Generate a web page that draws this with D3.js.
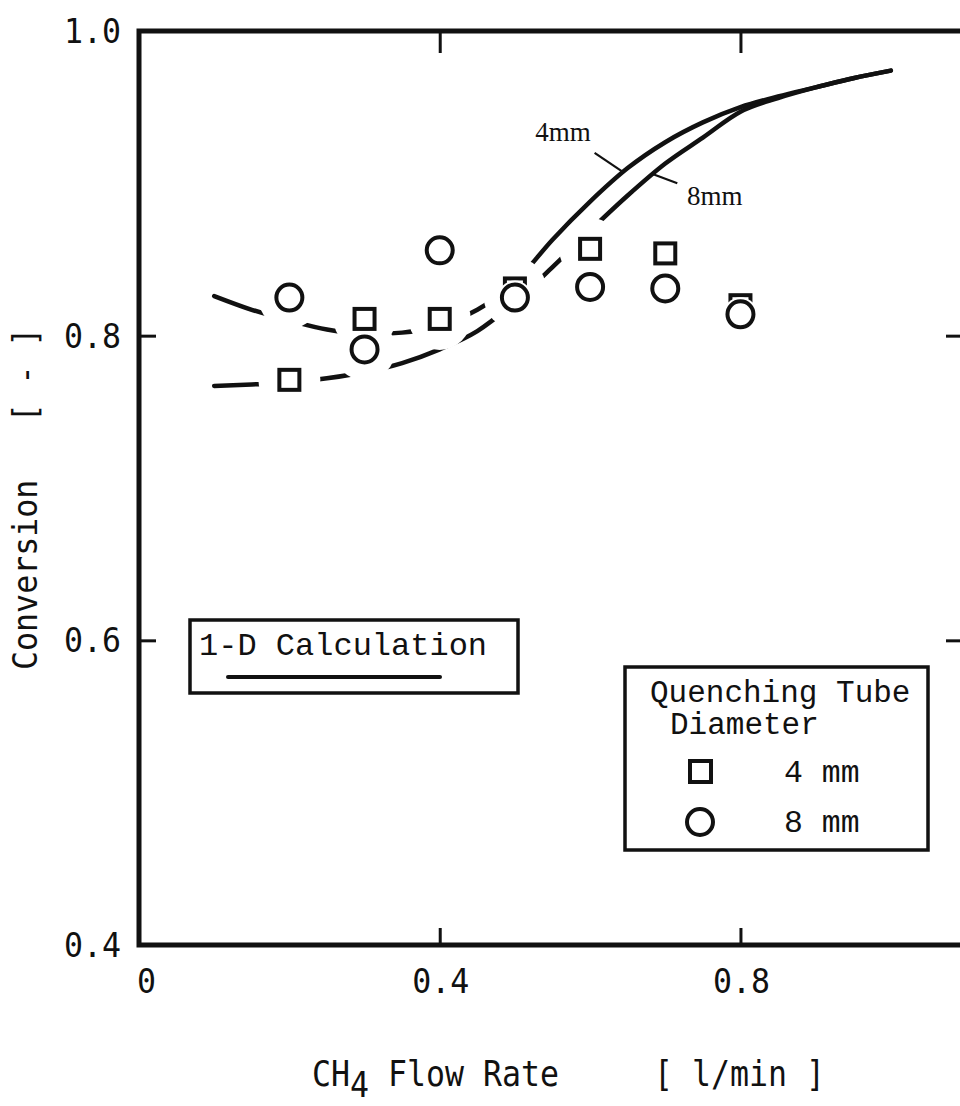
<!DOCTYPE html>
<html><head><meta charset="utf-8">
<script src="https://cdn.jsdelivr.net/npm/d3@7"></script>
<style>html,body{margin:0;padding:0;background:#fff;} svg{display:block;}</style>
</head><body><svg id="chart" width="960" height="1106"></svg>
<script>
// ---- data ----
const flowRate = [0.2, 0.3, 0.4, 0.5, 0.6, 0.7, 0.8];
const conv4mm  = [0.771, 0.811, 0.811, 0.831, 0.857, 0.854, 0.820];
const conv8mm  = [0.825, 0.791, 0.856, 0.825, 0.832, 0.831, 0.814];
const calcFlow = [0.10,0.15,0.20,0.25,0.30,0.35,0.40,0.45,0.50,0.55,0.60,0.65,0.70,0.75,0.80,0.85,0.90,0.95,1.00];
const calc4mm  = [0.826,0.817,0.810,0.804,0.801,0.802,0.807,0.817,0.835,0.863,0.888,0.910,0.927,0.940,0.950,0.957,0.963,0.969,0.974];
const calc8mm  = [0.767,0.768,0.769,0.772,0.776,0.782,0.791,0.803,0.822,0.845,0.869,0.892,0.913,0.930,0.947,0.956,0.963,0.969,0.974];
const xTickValues = [0, 0.4, 0.8];
const yTickValues = [0.4, 0.6, 0.8, 1.0];
const xMinorTicks = [0.4, 0.8];
const yMinorTicks = [0.6, 0.8];
const xLabelMain = "CH", xLabelSub = "4", xLabelRest = " Flow Rate     [ l/min ]";
const yLabel = "Conversion   [ - ]";
const legendCalc = "1-D Calculation";
const legendTitle1 = "Quenching Tube", legendTitle2 = "Diameter";
const seriesNames = ["4 mm", "8 mm"];
const curveNames = ["4mm", "8mm"];

// ---- scales ----
const svg = d3.select("#chart");
const x = d3.scaleLinear().domain([0, 1.1]).range([139, 966]);
const y = d3.scaleLinear().domain([0.4, 1.0]).range([945, 31]);
const ink = "#111";
const mono = "'DejaVu Sans Mono', monospace";
const typew = "'Liberation Mono', 'Courier New', monospace";

svg.append("rect").attr("width",960).attr("height",1106).attr("fill","#fff");

function ctext(sel, str, tx, ty, fs, sx, anchor, rot) {
  return sel.append("text")
    .attr("transform", `translate(${tx},${ty})${rot ? ` rotate(${rot})` : ""} scale(${sx},1)`)
    .attr("text-anchor", anchor)
    .style("font-family", mono).style("font-size", fs + "px").attr("fill", ink)
    .text(str);
}

// ---- mask for gaps in curves around markers ----
const defs = svg.append("defs");
const mask = defs.append("mask").attr("id", "gapMask").attr("maskUnits","userSpaceOnUse")
  .attr("x",0).attr("y",0).attr("width",960).attr("height",1106);
mask.append("rect").attr("width", 960).attr("height", 1106).attr("fill", "#fff");
const allPts = flowRate.map((f,i)=>[f,conv4mm[i]]).concat(flowRate.map((f,i)=>[f,conv8mm[i]]));
mask.selectAll("circle").data(allPts).join("circle")
  .attr("cx", d => x(d[0])).attr("cy", d => y(d[1])).attr("r", 31).attr("fill", "#000");

// ---- curves ----
const line = d3.line().x(d => x(d[0])).y(d => y(d[1])).curve(d3.curveMonotoneX);
const curveG = svg.append("g").attr("mask", "url(#gapMask)");
[calc4mm, calc8mm].forEach(arr => {
  curveG.append("path").datum(calcFlow.map((f,i)=>[f,arr[i]]))
    .attr("d", line).attr("fill","none").attr("stroke",ink)
    .attr("stroke-width",4.5).attr("stroke-linecap","round");
});

// ---- frame ----
svg.append("path")
  .attr("d", `M${x(1.1)},${y(1.0)} L${x(0)},${y(1.0)} L${x(0)},${y(0.4)} L${x(1.1)},${y(0.4)} Z`)
  .attr("fill","none").attr("stroke",ink).attr("stroke-width",5);

// ---- ticks ----
function ticks(axis, tx, ty) {
  const g = svg.append("g").attr("transform", `translate(${tx},${ty})`).call(axis);
  g.select(".domain").remove();
  g.selectAll("line").attr("stroke", ink).attr("stroke-width", 3);
  g.selectAll("text").remove();
}
ticks(d3.axisLeft(y).tickValues(yMinorTicks).tickSize(-17).tickFormat(""), x(0), 0);
ticks(d3.axisRight(y).tickValues(yMinorTicks).tickSize(-20).tickFormat(""), x(1.1), 0);
ticks(d3.axisTop(x).tickValues(xMinorTicks).tickSize(-22).tickFormat(""), 0, y(1.0));
ticks(d3.axisBottom(x).tickValues(xMinorTicks).tickSize(-17).tickFormat(""), 0, y(0.4));

// ---- tick labels ----
const fmt = d3.format(".1f");
yTickValues.forEach(v => ctext(svg, fmt(v), 121, y(v) + 12, 34, 0.93, "end"));
xTickValues.forEach(v => {
  if (v === 0) ctext(svg, "0", x(v) - 2, 993, 34, 0.93, "start");
  else ctext(svg, fmt(v), x(v) + 1, 993, 34, 0.93, "middle");
});

// ---- axis titles ----
const xl = ctext(svg, "", 312, 1086, 36, 0.877, "start");
xl.style("white-space","pre");
xl.append("tspan").text(xLabelMain);
xl.append("tspan").attr("dy", 11).text(xLabelSub);
xl.append("tspan").attr("dy", -11).text(xLabelRest);
ctext(svg, yLabel, 37, 670, 34, 0.93, "start", -90).style("white-space","pre");

// ---- markers ----
const mk = svg.append("g");
mk.selectAll("rect.sq").data(flowRate.map((f,i)=>[f,conv4mm[i]])).join("rect")
  .attr("class","sq")
  .attr("x", d => x(d[0]) - 10).attr("y", d => y(d[1]) - 10)
  .attr("width", 20).attr("height", 20)
  .attr("fill", "none").attr("stroke", ink).attr("stroke-width", 4);
mk.selectAll("circle.halo").data(flowRate.map((f,i)=>[f,conv8mm[i]])).join("circle")
  .attr("class","halo")
  .attr("cx", d => x(d[0])).attr("cy", d => y(d[1])).attr("r", 17).attr("fill", "#fff");
mk.selectAll("circle.ci").data(flowRate.map((f,i)=>[f,conv8mm[i]])).join("circle")
  .attr("class","ci")
  .attr("cx", d => x(d[0])).attr("cy", d => y(d[1])).attr("r", 13)
  .attr("fill", "#fff").attr("stroke", ink).attr("stroke-width", 4);

// ---- curve labels ----
const serif = "'Liberation Serif', 'Times New Roman', serif";
const ann = [
  {t: curveNames[0], tx: 0.527, ty: 0.928, l: [[0.606,0.920],[0.645,0.907]]},
  {t: curveNames[1], tx: 0.729, ty: 0.886, l: [[0.684,0.906],[0.716,0.900]]}
];
ann.forEach(a => {
  svg.append("text").attr("x", x(a.tx)).attr("y", y(a.ty))
    .style("font-family", serif).style("font-size","27px").attr("fill", ink).text(a.t);
  svg.append("line").attr("x1", x(a.l[0][0])).attr("y1", y(a.l[0][1]))
    .attr("x2", x(a.l[1][0])).attr("y2", y(a.l[1][1]))
    .attr("stroke", ink).attr("stroke-width", 2.2);
});

// ---- legend 1 ----
const lg1 = svg.append("g");
lg1.append("rect").attr("x",190).attr("y",620).attr("width",328).attr("height",73)
  .attr("fill","#fff").attr("stroke",ink).attr("stroke-width",3.5);
lg1.append("text").attr("x",199).attr("y",655).style("font-family",typew).style("font-size","32px")
  .attr("fill",ink).text(legendCalc);
lg1.append("line").attr("x1",228).attr("x2",440).attr("y1",677).attr("y2",677)
  .attr("stroke",ink).attr("stroke-width",4).attr("stroke-linecap","round");

// ---- legend 2 ----
const lg2 = svg.append("g");
lg2.append("rect").attr("x",625).attr("y",667).attr("width",303).attr("height",183)
  .attr("fill","#fff").attr("stroke",ink).attr("stroke-width",3.5);
lg2.append("text").attr("x",650).attr("y",702).style("font-family",typew).style("font-size","31px")
  .attr("fill",ink).text(legendTitle1);
lg2.append("text").attr("x",670).attr("y",734).style("font-family",typew).style("font-size","31px")
  .attr("fill",ink).text(legendTitle2);
lg2.append("rect").attr("x",690).attr("y",761).attr("width",21).attr("height",21)
  .attr("fill","none").attr("stroke",ink).attr("stroke-width",4);
lg2.append("circle").attr("cx",700).attr("cy",822).attr("r",13)
  .attr("fill","none").attr("stroke",ink).attr("stroke-width",4);
lg2.append("text").attr("x",784).attr("y",782).style("font-family",typew).style("font-size","31.5px")
  .attr("fill",ink).text(seriesNames[0]);
lg2.append("text").attr("x",784).attr("y",832).style("font-family",typew).style("font-size","31.5px")
  .attr("fill",ink).text(seriesNames[1]);
</script></body></html>
